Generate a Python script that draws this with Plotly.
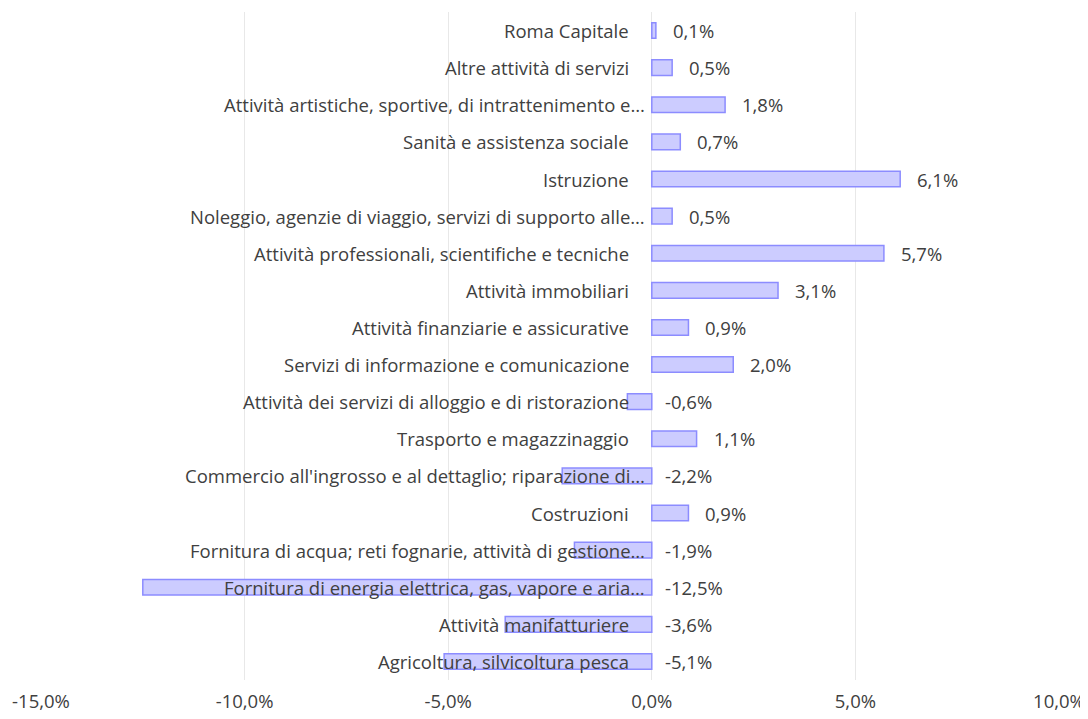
import plotly.graph_objects as go

categories = [
    "Agricoltura, silvicoltura pesca",
    "Attività manifatturiere",
    "Fornitura di energia elettrica, gas, vapore e aria…",
    "Fornitura di acqua; reti fognarie, attività di gestione…",
    "Costruzioni",
    "Commercio all'ingrosso e al dettaglio; riparazione di…",
    "Trasporto e magazzinaggio",
    "Attività dei servizi di alloggio e di ristorazione",
    "Servizi di informazione e comunicazione",
    "Attività finanziarie e assicurative",
    "Attività immobiliari",
    "Attività professionali, scientifiche e tecniche",
    "Noleggio, agenzie di viaggio, servizi di supporto alle…",
    "Istruzione",
    "Sanità e assistenza sociale",
    "Attività artistiche, sportive, di intrattenimento e…",
    "Altre attività di servizi",
    "Roma Capitale",
]
values = [-5.1, -3.6, -12.5, -1.9, 0.9, -2.2, 1.1, -0.6, 2.0, 0.9, 3.1, 5.7, 0.5, 6.1, 0.7, 1.8, 0.5, 0.1]
tick_vals = [-15, -10, -5, 0, 5, 10]
tick_text = ["-15,0%", "-10,0%", "-5,0%", "0,0%", "5,0%", "10,0%"]

FONT = "Open Sans"
TXT = "#404040"
FS = 18.5

fig = go.Figure()
fig.add_trace(go.Bar(
    y=categories, x=values, orientation="h", width=0.42,
    marker=dict(color="rgb(204,204,255)", line=dict(color="rgb(140,140,255)", width=1.5)),
    hoverinfo="x+y",
))

annotations = []
for c, v in zip(categories, values):
    trunc = c.endswith("…")
    annotations.append(dict(
        x=0, y=c, xref="x", yref="y", text=c, showarrow=False,
        xanchor="right", yanchor="middle", xshift=-5 if trunc else -21,
        font=dict(family=FONT, size=FS, color=TXT),
    ))
    lbl = f"{v:.1f}%".replace(".", ",")
    annotations.append(dict(
        x=max(v, 0), y=c, xref="x", yref="y", text=lbl, showarrow=False,
        xanchor="left", yanchor="middle", xshift=15 if v > 0 else 11,
        font=dict(family=FONT, size=FS, color=TXT),
    ))

fig.update_layout(
    width=1088, height=719,
    margin=dict(l=33, r=37, t=4, b=47, autoexpand=False),
    paper_bgcolor="white", plot_bgcolor="white",
    showlegend=False,
    annotations=annotations,
    xaxis=dict(range=[-15, 10], tickvals=tick_vals, ticktext=tick_text,
               automargin=False,
               showgrid=True, gridcolor="#E8E8E8", gridwidth=1,
               zeroline=True, zerolinecolor="#E8E8E8", zerolinewidth=1,
               showline=False, ticks="", ticklabelstandoff=8,
               tickfont=dict(family=FONT, size=FS, color=TXT)),
    yaxis=dict(showticklabels=False, showgrid=False, zeroline=False,
               automargin=False,
               showline=False, ticks="", range=[-0.5, 17.5]),
    font=dict(family=FONT),
)

fig.write_html("out.html")
